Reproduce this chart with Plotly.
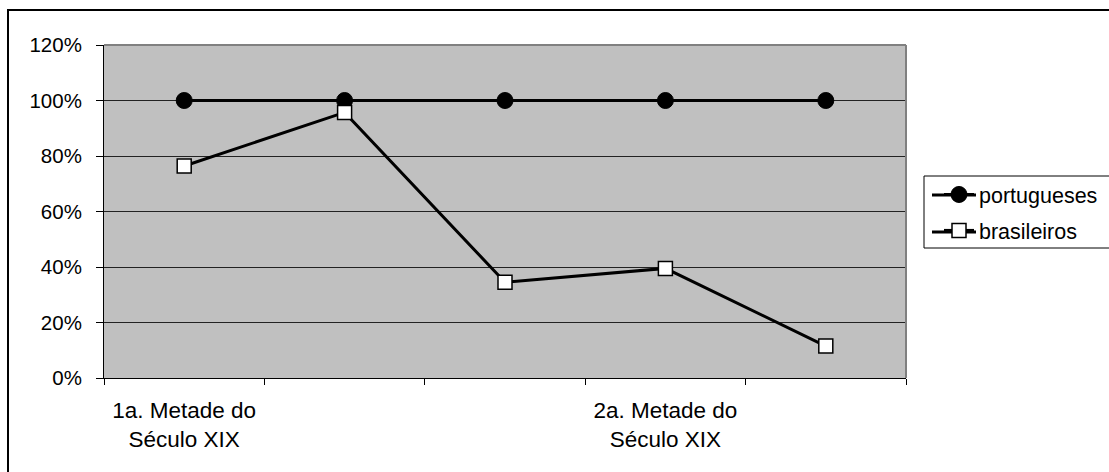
import plotly.graph_objects as go

categories = ["1a. Metade do<br>Século XIX", " ", "  ", "2a. Metade do<br>Século XIX", "   "]
portugueses = [1.00, 1.00, 1.00, 1.00, 1.00]
brasileiros = [0.764, 0.957, 0.345, 0.395, 0.115]
y_ticks = [0, 0.2, 0.4, 0.6, 0.8, 1.0, 1.2]
y_tick_labels = ["0%", "20%", "40%", "60%", "80%", "100%", "120%"]

FONT = "Liberation Sans, Arial, sans-serif"

fig = go.Figure()
fig.add_trace(go.Scatter(
    x=categories, y=portugueses, name="portugueses", mode="lines+markers",
    legendgroup="a",
    line=dict(color="black", width=3),
    marker=dict(symbol="circle", size=16, color="black", line=dict(color="black", width=1)),
))
fig.add_trace(go.Scatter(
    x=categories, y=brasileiros, name="brasileiros", mode="lines+markers",
    legendgroup="b",
    line=dict(color="black", width=3),
    marker=dict(symbol="square", size=14, color="white", line=dict(color="black", width=1.5)),
))

L, R, T, B = 104, 906, 45, 378
W, H = 1109, 472
pw, ph = R - L, B - T


def px(x):
    return (x - L) / pw


def py(y):
    return (B - y) / ph


legend_key_lines = [
    dict(type="line", xref="paper", yref="paper", x0=px(932), x1=px(976),
         y0=py(yy), y1=py(yy), line=dict(color="black", width=3), layer="below")
    for yy in (195, 232)
]

fig.update_layout(
    width=W, height=H,
    margin=dict(l=L, r=W - R, t=T, b=H - B, pad=0, autoexpand=False),
    paper_bgcolor="white", plot_bgcolor="#C0C0C0",
    font=dict(family=FONT, size=20, color="black"),
    showlegend=True,
    legend=dict(
        x=px(939), y=py(174), xanchor="left", yanchor="top",
        bgcolor="rgba(0,0,0,0)", borderwidth=0,
        font=dict(family=FONT, size=21.5, color="black"),
        tracegroupgap=5,
    ),
    xaxis=dict(
        type="category", categoryorder="array", categoryarray=categories,
        tickson="boundaries", ticks="outside", ticklen=6, tickwidth=1, tickcolor="black",
        showline=True, linecolor="black", linewidth=1, mirror=False,
        showgrid=False, zeroline=False, ticklabelstandoff=12,
        tickfont=dict(family=FONT, size=22.5, color="black"),
        range=[-0.5, 4.5],
    ),
    yaxis=dict(
        range=[0, 1.2], tickvals=y_ticks, ticktext=y_tick_labels,
        ticks="outside", ticklen=7, tickwidth=1, tickcolor="black",
        showline=True, linecolor="black", linewidth=1,
        showgrid=True, gridcolor="#222222", gridwidth=1, zeroline=False,
        ticklabelstandoff=10,
        tickfont=dict(family=FONT, size=20.5, color="black"),
    ),
    shapes=[
        dict(type="line", xref="paper", yref="paper", x0=0, x1=1, y0=1, y1=1,
             line=dict(color="#808080", width=2)),
        dict(type="line", xref="paper", yref="paper", x0=1, x1=1, y0=0, y1=1,
             line=dict(color="#808080", width=2)),
        # outer chart border
        dict(type="rect", xref="paper", yref="paper",
             x0=px(8), x1=px(1130), y0=py(500), y1=py(10),
             line=dict(color="black", width=2), fillcolor="rgba(0,0,0,0)", layer="below"),
        # legend box
        dict(type="rect", xref="paper", yref="paper",
             x0=px(924), x1=px(1130), y0=py(248), y1=py(176),
             line=dict(color="black", width=1), fillcolor="white", layer="below"),
    ] + legend_key_lines,
)

fig.write_html("out.html")
